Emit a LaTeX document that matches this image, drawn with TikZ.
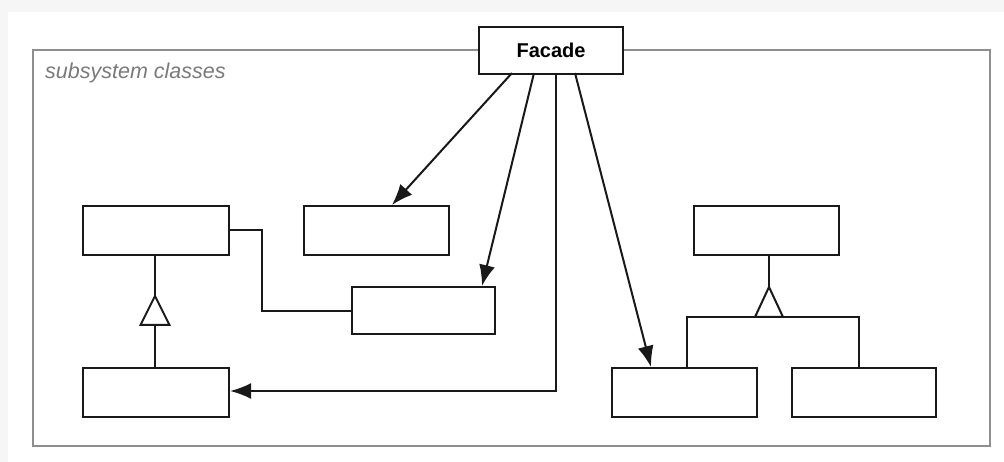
\documentclass[tikz,border=0pt]{standalone}
\usepackage{fontspec}
\setmainfont{Liberation Sans}
\usetikzlibrary{arrows.meta}
\definecolor{framegray}{HTML}{8E8E8E}
\definecolor{labelgray}{HTML}{7A7A7A}
\begin{document}
\begin{tikzpicture}[x=1pt,y=-1pt,
  cls/.style={draw=black!90,line width=2.1pt,fill=white,minimum width=145pt,minimum height=49pt,inner sep=0pt,anchor=north west},
  link/.style={draw=black!90,line width=2pt},
  uses/.style={link,-{Latex[length=21pt,width=16pt]}},
  gen/.style={draw=black!90,line width=2pt,fill=white,line join=miter}]
  % page and soft edge
  \useasboundingbox (0,0) rectangle (1004,462);
  \fill[gray!7] (0,0) rectangle (1004,462);
  \fill[white] (8,12) rectangle (1004,462);
  % subsystem frame
  \draw[framegray,line width=2.4pt] (33,50) rectangle (990,446);
  \node[anchor=west,text=labelgray,font=\fontsize{21.5}{24}\selectfont\itshape,inner sep=0pt] (lbl) at (45,73) {subsystem classes};
  % facade
  \node[cls,minimum width=144pt,minimum height=47pt] (fac) at (478,26) {};
  \node[font=\fontsize{20}{24}\selectfont\bfseries] at (fac.center) {Facade};
  % subsystem classes
  \node[cls,minimum width=146pt] (a) at (82,205) {};
  \node[cls] (b) at (303,205) {};
  \node[cls,minimum width=143pt,minimum height=47pt] (c) at (351,286) {};
  \node[cls,minimum width=146pt] (d) at (82,367) {};
  \node[cls] (e) at (693,205) {};
  \node[cls] (f) at (611,367) {};
  \node[cls,minimum width=144pt] (g) at (791,367) {};
  % left hierarchy
  \coordinate (ta) at (155,296);
  \draw[link] (a.south -| ta) -- (ta);
  \draw[link] (155,325) -- (d.north -| ta);
  \draw[gen] (ta) -- (169.5,325) -- (140.5,325) -- cycle;
  % association a -- c
  \draw[link] (a.east |- 0,230) -- (262,230) |- (c.west);
  % right hierarchy
  \coordinate (te) at (769,287);
  \draw[link] (e.south -| te) -- (te);
  \draw[link] (687,367) -- (687,317) -- (859,317) -- (859,367);
  \draw[gen] (te) -- (783,317) -- (755,317) -- cycle;
  % facade uses
  \draw[uses] (512,73) -- (392,205);
  \draw[uses] (534,73) -- (482,286);
  \draw[uses] (556,73) -- (556,391) -- (d.east |- 0,391);
  \draw[uses] (575,73) -- (651,367);
\end{tikzpicture}
\end{document}
